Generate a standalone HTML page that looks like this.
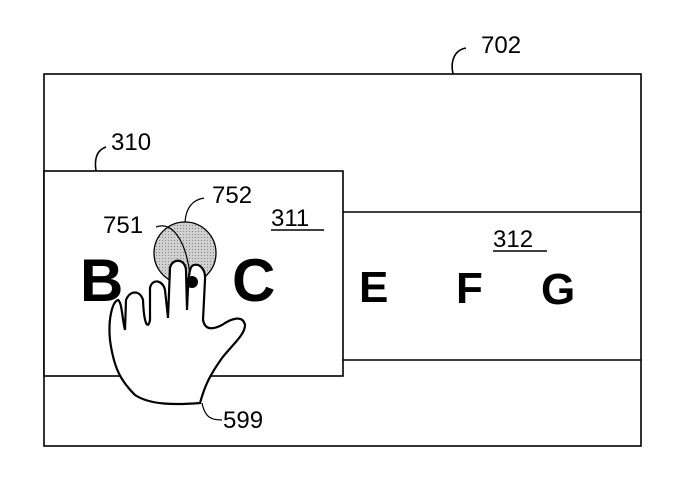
<!DOCTYPE html>
<html><head><style>body{margin:0;background:#fff}svg{display:block}</style></head><body>
<svg width="679" height="486" xmlns="http://www.w3.org/2000/svg" font-family="Liberation Sans, sans-serif">
<defs><pattern id="p" width="3" height="3" patternUnits="userSpaceOnUse"><rect width="3" height="3" fill="#d0d0d0"/><rect width="1" height="1" fill="#888"/></pattern></defs>
<g fill="none" stroke="#000" stroke-width="1.6">
<rect x="44" y="74" width="597" height="372"/>
<line x1="343" y1="212" x2="641" y2="212"/>
<line x1="343" y1="360" x2="641" y2="360"/>
<rect x="44" y="171" width="299" height="205" fill="#fff"/>
<path d="M453 74 C450 60 455 50 466 48"/>
<path d="M96 171 C94 158 97 150 106 147"/>
</g>
<circle cx="185" cy="253" r="31" fill="url(#p)" stroke="#000" stroke-width="1.3"/>
<text x="80" y="301" font-size="60" font-weight="bold">B</text>
<text x="232" y="301" font-size="60" font-weight="bold">C</text>
<text x="359" y="302" font-size="44" font-weight="bold">E</text>
<text x="456" y="303" font-size="44" font-weight="bold">F</text>
<text x="541" y="304" font-size="44" font-weight="bold">G</text>
<path d="M118 300 C112 302 108 320 110 340 C114 370 122 382 135 395 C150 405 175 405 200 403 C205 385 210 375 222 358 C232 345 245 335 245 325 C243 315 232 318 222 325 C212 330 205 330 203 320 L205 280 C206 268 198 262 192 266 C188 270 188 290 187 310 L186 270 C185 258 172 258 170 268 L168 318 L165 290 C163 280 152 278 150 288 L150 320 C148 330 144 325 143 300 C140 290 130 290 126 300 L125 330 C122 318 122 302 118 300 Z" fill="#fff" stroke="#000" stroke-width="2.2"/>
<circle cx="192" cy="282" r="6" fill="#000"/>
<g fill="none" stroke="#000" stroke-width="1.2">
<path d="M156 227 C170 222 185 235 190 275"/>
<path d="M185 222 C186 208 192 200 204 198"/>
<path d="M202 403 C205 418 212 420 222 420"/>
</g>
<g font-size="24" fill="#000">
<text x="481" y="53">702</text>
<text x="111" y="150">310</text>
<text x="212" y="203">752</text>
<text x="103" y="233">751</text>
<text x="271" y="226">311</text>
<text x="493" y="247">312</text>
<text x="223" y="428">599</text>
</g>
<line x1="271" y1="230" x2="324" y2="230" stroke="#000" stroke-width="1.4"/>
<line x1="493" y1="251" x2="547" y2="251" stroke="#000" stroke-width="1.4"/>
</svg>
</body></html>
